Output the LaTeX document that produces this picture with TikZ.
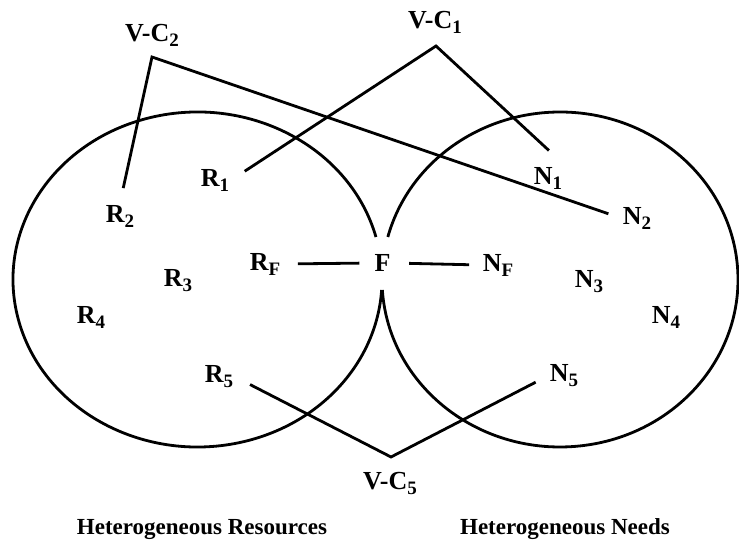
\documentclass[tikz,border=0pt]{standalone}
\usepackage{fontspec}
\setmainfont{Liberation Serif}
\usepackage{tikz}
\usetikzlibrary{calc}
\definecolor{inkblack}{RGB}{0,0,0}
\newcommand{\lsub}[1]{\raisebox{-5pt}{\fontsize{19}{20}\selectfont #1}}

\begin{document}
\begin{tikzpicture}[x=1pt, y=1pt,
  lbl/.style={inner sep=2pt, font=\fontsize{26}{31}\selectfont\bfseries},
  heading/.style={inner sep=0pt, anchor=base, font=\fontsize{23}{28}\selectfont\bfseries},
  link/.style={inkblack, line width=2.8pt}]
  \useasboundingbox (0,0) rectangle (739,540);
  % Resources and needs
  \coordinate (lc) at (197.5,260.5);
  \coordinate (rc) at (560,260.5);
  \draw[link] ([shift={(14.7:184.5 and 167.5)}]lc)
    arc[start angle=14.7, end angle=356.4, x radius=184.5, y radius=167.5];
  \draw[link] ([shift={(183.6:178 and 167.5)}]rc)
    arc[start angle=183.6, end angle=525.3, x radius=178, y radius=167.5];
  \node[lbl] (r1) at (215,360) {R\lsub{1}};
  \node[lbl] (r2) at (120,324) {R\lsub{2}};
  \node[lbl] (r3) at (178,259) {R\lsub{3}};
  \node[lbl] (r4) at (91,223) {R\lsub{4}};
  \node[lbl] (r5) at (219,163) {R\lsub{5}};
  \node[lbl] (rf) at (265,276) {R\lsub{F}};
  \node[lbl] (f) at (382.5,277) {F};
  \node[lbl] (nf) at (498,275) {N\lsub{F}};
  \node[lbl] (n1) at (548,362) {N\lsub{1}};
  \node[lbl] (n2) at (637,322) {N\lsub{2}};
  \node[lbl] (n3) at (589,258) {N\lsub{3}};
  \node[lbl] (n4) at (666,223) {N\lsub{4}};
  \node[lbl] (n5) at (564,164) {N\lsub{5}};
  % Virtual collaborations
  \node[lbl] (vc1) at (435,518) {V-C\lsub{1}};
  \node[lbl] (vc2) at (152,505) {V-C\lsub{2}};
  \node[lbl] (vc5) at (390,57) {V-C\lsub{5}};
  \coordinate (vc1tip) at (436,494);
  \coordinate (vc2tip) at (152,483);
  \coordinate (vc5tip) at (391,83);
  \draw[link, shorten <=16pt, shorten >=21pt] (r1.east) -- (vc1tip) -- (n1.north east);
  \draw[link, shorten <=15pt, shorten >=13pt] (r2.north) -- (vc2tip) -- (n2.west);
  \draw[link, shorten <=16.5pt, shorten >=13.5pt] (r5.east) -- (vc5tip) -- (n5.west);
  \draw[link, shorten <=15.5pt, shorten >=13pt] (rf.east) -- (f.west);
  \draw[link, shorten <=16.5pt, shorten >=11.5pt] (f.east) -- (nf.west);
  % Captions
  \node[heading] (hres) at (202,5) {Heterogeneous Resources};
  \node[heading] (hneed) at (565,5) {Heterogeneous Needs};
\end{tikzpicture}
\end{document}
